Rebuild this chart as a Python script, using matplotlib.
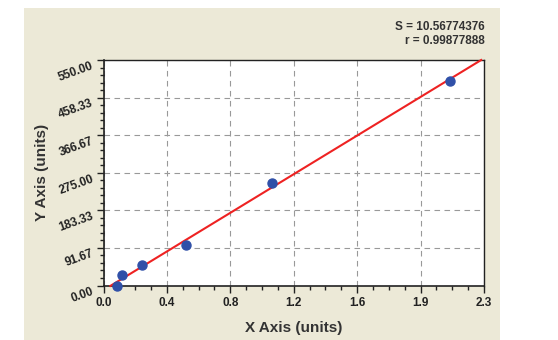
import numpy as np
import matplotlib
matplotlib.use('Agg')
import matplotlib.pyplot as plt
from matplotlib.patches import Rectangle
from matplotlib.ticker import AutoMinorLocator

# Punts de la corba estandard
conc_x = [0.083, 0.116, 0.238, 0.505, 1.034, 2.130]
resp_y = [0, 25, 50, 100, 250, 500]

x_max = 2.34
y_max = 550.0
x_tick_labels = ['0.0', '0.4', '0.8', '1.2', '1.6', '1.9', '2.3']
y_tick_labels = ['0.00', '91.67', '183.33', '275.00', '366.67', '458.33', '550.00']
text_s = 'S = 10.56774376'
text_r = 'r = 0.99877888'

plt.rcParams['font.family'] = ['Liberation Sans', 'DejaVu Sans']

W, H = 558, 340
fig = plt.figure(figsize=(W/100, H/100), dpi=100)
fig.patch.set_facecolor('white')
# panell beix de fons
fig.patches.append(Rectangle((24/W, 0), (500-24)/W, (H-8)/H,
                             transform=fig.transFigure, facecolor='#ece9d7',
                             edgecolor='none', zorder=-10))

# area del grafic en pixels
esq, dre, dalt, baix = 103.5, 484, 60, 285.5
ax = fig.add_axes([esq/W, 1-baix/H, (dre-esq)/W, (baix-dalt)/H])
ax.set_zorder(1)
ax.set_facecolor('white')
ax.set_xlim(0, x_max)
ax.set_ylim(0, y_max)

ax.set_xticks(np.linspace(0, x_max, 7))
ax.set_xticklabels(x_tick_labels, fontsize=8.5, fontweight='bold', color='#222222')
ax.set_yticks(np.linspace(0, y_max, 7))
ax.set_yticklabels(y_tick_labels, fontsize=8.5, fontweight='bold', color='#222222',
                   rotation=20, rotation_mode='anchor', ha='right', va='top')
ax.xaxis.set_minor_locator(AutoMinorLocator(4))
ax.yaxis.set_minor_locator(AutoMinorLocator(5))
ax.tick_params(which='major', length=5, width=1, color='#222222', pad=3)
ax.tick_params(axis='y', which='major', pad=4)
ax.tick_params(which='minor', length=3, width=1, color='#222222')

ax.grid(True, which='major', linestyle=(0, (5, 4)), color='#999999', linewidth=0.8)
for s in ax.spines.values():
    s.set_linewidth(1.2)
    s.set_color('#222222')
ax.spines['top'].set_linewidth(1.0)
ax.spines['right'].set_linewidth(1.0)

# recta de regressio, de y=0 fins a dalt
m, b = np.polyfit(conc_x, resp_y, 1)
yl = np.array([-1.0, y_max])
ax.plot((yl - b) / m, yl, color='#ee2222', linewidth=1.5, zorder=3, clip_on=False)

ax.plot(conc_x, resp_y, 'o', markersize=6.5, color='#3050a8', zorder=4, clip_on=False)

ax.set_xlabel('X Axis (units)', fontsize=11, fontweight='bold', color='#333333')
ax.set_ylabel('Y Axis (units)', fontsize=11, fontweight='bold', color='#333333')
ax.xaxis.set_label_coords(0.5, (baix - 321) / (baix - dalt))
ax.yaxis.set_label_coords((49 - esq) / (dre - esq), 0.5)

fig.text(485/W, 1-27.5/H, text_s, ha='right', va='center', fontsize=8.5,
         fontweight='bold', color='#333333')
fig.text(485/W, 1-41.5/H, text_r, ha='right', va='center', fontsize=8.5,
         fontweight='bold', color='#333333')

fig.savefig('out.png', dpi=100)
